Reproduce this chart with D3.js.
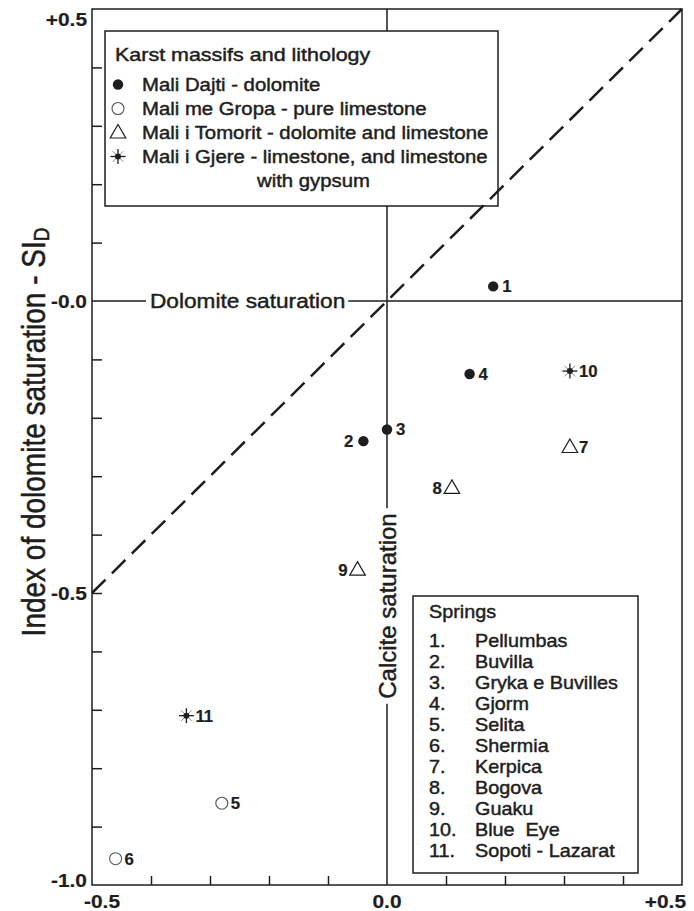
<!DOCTYPE html>
<html>
<head>
<meta charset="utf-8">
<script src="https://cdn.jsdelivr.net/npm/d3@7"></script>
<style>
  body { margin: 0; background: #fff; }
  svg { display: block; font-family: "Liberation Sans", Arial, sans-serif; }
</style>
</head>
<body>
<svg id="chart" width="694" height="911"></svg>
<script>
// Springs: calcite saturation (x) vs dolomite saturation (y)
const springIds = [1, 2, 3, 4, 5, 6, 7, 8, 9, 10, 11];
const springNames = ["Pellumbas", "Buvilla", "Gryka e Buvilles", "Gjorm", "Selita", "Shermia",
                     "Kerpica", "Bogova", "Guaku", "Blue\u00a0\u00a0Eye", "Sopoti - Lazarat"];
const siCalcite = [0.18, -0.04, 0.00, 0.14, -0.28, -0.46, 0.31, 0.11, -0.05, 0.31, -0.34];
const siDolomite = [0.025, -0.24, -0.22, -0.125, -0.86, -0.955, -0.25, -0.32, -0.46, -0.12, -0.71];
const springMassif = ["dajti", "dajti", "dajti", "dajti", "gropa", "gropa",
                      "tomorit", "tomorit", "tomorit", "gjere", "gjere"];
const labelLeft = [2, 8, 9];

const massifKeys = ["dajti", "gropa", "tomorit", "gjere"];
const massifLabels = ["Mali Dajti - dolomite", "Mali me Gropa - pure limestone",
                      "Mali i Tomorit - dolomite and limestone", "Mali i Gjere - limestone, and limestone"];

const xTicks = [-0.4, -0.3, -0.2, -0.1, 0.1, 0.2, 0.3, 0.4];
const yTicks = [0.4, 0.3, 0.2, 0.1, -0.1, -0.2, -0.3, -0.4, -0.5, -0.6, -0.7, -0.8, -0.9];
const xLabelValues = [-0.5, 0, 0.5];
const xLabelTexts = ["-0.5", "0.0", "+0.5"];
const yLabelValues = [0.5, 0, -0.5, -1.0];
const yLabelTexts = ["+0.5", "-0.0", "-0.5", "-1.0"];

const ink = "#1e1e1e";
const svg = d3.select("#chart");

const x = d3.scaleLinear().domain([-0.5, 0.5]).range([92, 682]);
const y = d3.scaleLinear().domain([-1.0, 0.5]).range([885, 9]);

// text helper: the original glyphs are a little wide and heavy
function txt(parent, px, py, s, opt = {}) {
    const size = opt.size || 18, sx = opt.sx || 1.1;
    const tf = opt.rotate
        ? `translate(${px},${py}) rotate(-90) scale(1,${sx})`
        : `translate(${px},${py}) scale(${sx},1)`;
    return parent.append("text")
        .attr("transform", tf)
        .attr("text-anchor", opt.anchor || "start")
        .attr("font-size", size)
        .attr("font-weight", opt.weight || "normal")
        .attr("fill", ink)
        .attr("stroke", ink)
        .attr("stroke-width", opt.weight === "bold" ? 0.2 : 0.45)
        .text(s);
}

function drawMarker(g, kind, cx, cy) {
    if (kind === "dajti") {
        g.append("circle").attr("cx", cx).attr("cy", cy).attr("r", 5.2).attr("fill", ink);
    } else if (kind === "gropa") {
        g.append("circle").attr("cx", cx).attr("cy", cy).attr("r", 6)
            .attr("fill", "#fff").attr("stroke", "#555").attr("stroke-width", 1.1);
    } else if (kind === "tomorit") {
        g.append("path")
            .attr("d", d3.symbol().type(d3.symbolTriangle).size(105)())
            .attr("transform", `translate(${cx},${cy + 1})`)
            .attr("fill", "#fff").attr("stroke", ink).attr("stroke-width", 1.2);
    } else {
        const r = 7.5;
        [[0, 1.3, ink], [90, 1.3, ink], [45, 1, "#888"], [135, 1, "#888"]].forEach(([a, w, c]) => {
            const t = a * Math.PI / 180;
            g.append("line")
                .attr("x1", cx - r * Math.cos(t)).attr("y1", cy - r * Math.sin(t))
                .attr("x2", cx + r * Math.cos(t)).attr("y2", cy + r * Math.sin(t))
                .attr("stroke", c).attr("stroke-width", w);
        });
        g.append("circle").attr("cx", cx).attr("cy", cy).attr("r", 3).attr("fill", ink);
    }
}

// frame
svg.append("rect")
    .attr("x", x(-0.5)).attr("y", y(0.5))
    .attr("width", x(0.5) - x(-0.5)).attr("height", y(-1) - y(0.5))
    .attr("fill", "none").attr("stroke", ink).attr("stroke-width", 1.5);

// inward ticks
const yAxis = svg.append("g").attr("transform", `translate(${x(-0.5)},0)`)
    .call(d3.axisLeft(y).tickValues(yTicks).tickSize(-10).tickFormat(""));
const xAxis = svg.append("g").attr("transform", `translate(0,${y(-1)})`)
    .call(d3.axisBottom(x).tickValues(xTicks).tickSize(-9).tickFormat(""));
[xAxis, yAxis].forEach(a => {
    a.select(".domain").remove();
    a.selectAll(".tick line").attr("stroke", ink).attr("stroke-width", 1.5);
});

// tick labels (end labels are pulled inside the frame, as in the original)
yLabelValues.forEach((v, i) => {
    const by = Math.min(Math.max(y(v) + 6.5, 26), 887);
    txt(svg, 87, by, yLabelTexts[i], {size: 19, weight: "bold", anchor: "end", sx: 1.1});
});
xLabelValues.forEach((v, i) => {
    const last = i === xLabelValues.length - 1;
    const anchor = i === 0 ? "start" : last ? "end" : "middle";
    const px = i === 0 ? x(v) - 8 : last ? x(v) + 4 : x(v);
    txt(svg, px, 908, xLabelTexts[i], {size: 19, weight: "bold", anchor, sx: 1.1});
});

// axis title
const yTitle = txt(svg, 45, 432, "Index of dolomite saturation - SI", {size: 28, anchor: "middle", rotate: true, sx: 1.2});
yTitle.append("tspan").attr("font-size", 19).attr("dy", 3).text("D");

// saturation lines with labels in gaps
const dolLabel = txt(svg, 150, 308, "Dolomite saturation", {size: 21, sx: 1.08});
const calLabel = txt(svg, 396, 606, "Calcite saturation", {size: 24, anchor: "middle", rotate: true, sx: 1.0});
const db = dolLabel.node().getBoundingClientRect();
const cb = calLabel.node().getBoundingClientRect();
const satLines = [
    [x(-0.5), y(0), db.left - 4, y(0)],
    [db.right + 3, y(0), x(0.5), y(0)],
    [x(0), y(0.5), x(0), cb.top - 5],
    [x(0), cb.bottom + 5, x(0), y(-1)]
];
svg.append("g").selectAll("line").data(satLines).join("line")
    .attr("x1", d => d[0]).attr("y1", d => d[1])
    .attr("x2", d => d[2]).attr("y2", d => d[3])
    .attr("stroke", ink).attr("stroke-width", 1.5);

// lithology legend
const leg = svg.append("g");
leg.append("rect").attr("x", 105).attr("y", 31).attr("width", 393).attr("height", 175)
    .attr("fill", "#fff").attr("stroke", ink).attr("stroke-width", 1.5);
txt(leg, 115, 61, "Karst massifs and lithology", {size: 19, sx: 1.13});
massifKeys.forEach((k, i) => {
    const by = 91 + i * 24;
    drawMarker(leg, k, 118, by - 6.5);
    txt(leg, 142, by, massifLabels[i], {size: 18, sx: 1.13});
});
txt(leg, 257, 187, "with gypsum", {size: 18, sx: 1.13});

// 1:1 line
svg.append("line")
    .attr("x1", x(-0.5)).attr("y1", y(-0.5))
    .attr("x2", x(0.5)).attr("y2", y(0.5))
    .attr("stroke", ink).attr("stroke-width", 2.5)
    .attr("stroke-dasharray", "19 9");

// springs legend
const sl = svg.append("g");
sl.append("rect").attr("x", 413).attr("y", 596).attr("width", 225).attr("height", 277)
    .attr("fill", "#fff").attr("stroke", ink).attr("stroke-width", 1.5);
txt(sl, 429, 618, "Springs", {size: 18, sx: 1.1});
springIds.forEach((id, i) => {
    const by = 646.5 + i * 21;
    txt(sl, 429, by, id + ".", {size: 18, sx: 1.1});
    txt(sl, 475, by, springNames[i], {size: 18, sx: 1.1});
});

// points
const pts = svg.append("g");
springIds.forEach((id, i) => {
    const cx = x(siCalcite[i]), cy = y(siDolomite[i]);
    drawMarker(pts, springMassif[i], cx, cy);
    const left = labelLeft.includes(id);
    txt(pts, left ? cx - 10 : cx + 9, cy + 6, String(id),
        {size: 16, weight: "bold", anchor: left ? "end" : "start", sx: 1.05});
});
</script>
</body>
</html>
